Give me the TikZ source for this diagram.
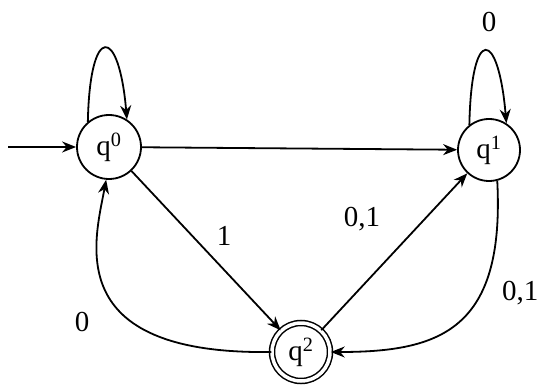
\documentclass[tikz,border=0pt]{standalone}
\usepackage{fontspec}
\setmainfont{Liberation Serif}
\usetikzlibrary{arrows.meta}
\begin{document}
\begin{tikzpicture}[x=1pt,y=-1pt,
  every node/.style={font=\fontsize{29}{32}\selectfont},
  state/.style={circle,draw,line width=1.8pt,minimum size=64pt,inner sep=0pt},
  accept/.style={circle,draw,line width=1.5pt,double,double distance=3.5pt,minimum size=58pt,inner sep=0pt},
  edge/.style={line width=1.8pt,-{Stealth[length=14pt,width=11pt]}},
  lbl/.style={inner sep=0pt}]
\useasboundingbox (0,0) rectangle (537,387);
\node[state] (q0) at (109,147) {q\textsuperscript{0}};
\node[state,minimum size=62pt] (q1) at (489,150) {q\textsuperscript{1}};
\node[accept] (q2) at (301,352) {q\textsuperscript{2}};
\coordinate (start) at (8,147);
\draw[edge] (start) -- (q0);
\draw[edge] (q0) -- (q1);
\draw[edge] (q0.130) .. controls +(2,-99) and +(-8,-94) .. (q0.57);
\draw[edge] (q1.128) .. controls +(2,-101) and +(-8,-94) .. (q1.57);
\draw[edge] (q0) -- (q2);
\draw[edge] (q2) -- (q1);
\draw[edge] (q1.-75) .. controls (505,330) and (440,352) .. (q2.0);
\draw[edge] (q2.180) .. controls (60,355) and (95,240) .. (q0.-95);
\node[lbl] (l1) at (489,22) {0};
\node[lbl] (l2) at (224,236) {1};
\node[lbl] (l3) at (362,219) {0,1};
\node[lbl,anchor=west] (l4) at (502,293) {0,1};
\node[lbl] (l5) at (82,322) {0};
\end{tikzpicture}
\end{document}
